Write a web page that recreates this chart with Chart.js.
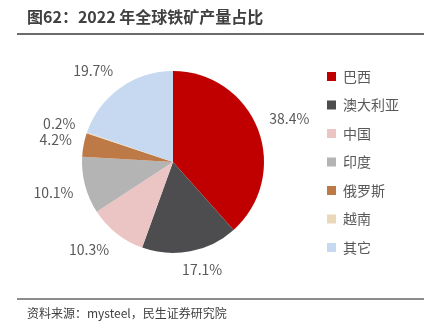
<!DOCTYPE html>
<html lang="zh-CN">
<head>
<meta charset="utf-8">
<title>2022 年全球铁矿产量占比</title>
<script src="https://cdn.jsdelivr.net/npm/chart.js@4/dist/chart.umd.min.js"></script>
<style>
  body { margin: 0; background: #fff; }
  #wrap { position: relative; width: 434px; height: 334px; background: #fff; overflow: hidden; }
  #chart { position: absolute; left: 0; top: 0; }
  .title {
    position: absolute; left: 27px; top: 5px;
    font: bold 16px/22px "Noto Sans CJK SC", sans-serif; color: #404040;
  }
  .rule { position: absolute; left: 17px; width: 407px; height: 2px; }
  .rule.top { top: 33px; background: #6b6b6b; }
  .rule.bottom { top: 298px; background: #8c8c8c; height: 1.5px; }
  .source {
    position: absolute; left: 27px; top: 305px;
    font: 12px/16px "Noto Sans CJK SC", sans-serif; color: #404040;
  }
</style>
</head>
<body>
<div id="wrap">
  <canvas id="chart" width="434" height="334"></canvas>
  <div class="title">图62：2022 年全球铁矿产量占比</div>
  <div class="rule top"></div>
  <div class="rule bottom"></div>
  <div class="source">资料来源：mysteel，民生证券研究院</div>
</div>
<script>
// 数据
const countries = ['巴西', '澳大利亚', '中国', '印度', '俄罗斯', '越南', '其它'];
const shares = [38.4, 17.1, 10.3, 10.1, 4.2, 0.2, 19.7];
const sliceColors = ['#C00000', '#4D4D4F', '#EBC4C4', '#B4B4B4', '#BE7A46', '#EBD7B9', '#C6D9F0'];

const FONT = '"Noto Sans CJK SC", sans-serif';

// 扇区外侧的百分比标签
const outsideLabels = {
  id: 'outsideLabels',
  afterDatasetsDraw(chart) {
    const meta = chart.getDatasetMeta(0);
    const ctx = chart.ctx;
    ctx.save();
    ctx.font = '14px ' + FONT;
    ctx.fillStyle = '#595959';
    ctx.textAlign = 'center';
    ctx.textBaseline = 'middle';
    meta.data.forEach((arc, i) => {
      const { x, y, startAngle, endAngle, outerRadius } = arc.getProps(
        ['x', 'y', 'startAngle', 'endAngle', 'outerRadius'], true);
      const mid = (startAngle + endAngle) / 2;
      const dx = Math.cos(mid);
      const dy = Math.sin(mid);
      const text = shares[i].toFixed(1) + '%';
      const w = ctx.measureText(text).width;
      const h = 14;
      const r = outerRadius + 12;
      const clamp = (v) => Math.max(-1, Math.min(1, v * 2.5));
      const tx = x + r * dx + (w / 2) * clamp(dx);
      const ty = y + r * dy + (h / 2) * clamp(dy);
      ctx.fillText(text, tx, ty);
    });
    ctx.restore();
  }
};

new Chart(document.getElementById('chart'), {
  type: 'pie',
  data: {
    labels: countries,
    datasets: [{
      data: shares,
      backgroundColor: sliceColors,
      borderWidth: 0,
      radius: 91
    }]
  },
  options: {
    responsive: false,
    animation: false,
    layout: {
      padding: { top: 45, bottom: 55, left: 33.5, right: 25 }
    },
    plugins: {
      legend: {
        position: 'right',
        labels: {
          boxWidth: 9,
          boxHeight: 9,
          padding: 14.5,
          color: '#595959',
          font: { size: 14, family: FONT }
        }
      },
      tooltip: { enabled: false }
    }
  },
  plugins: [outsideLabels]
});
</script>
</body>
</html>
